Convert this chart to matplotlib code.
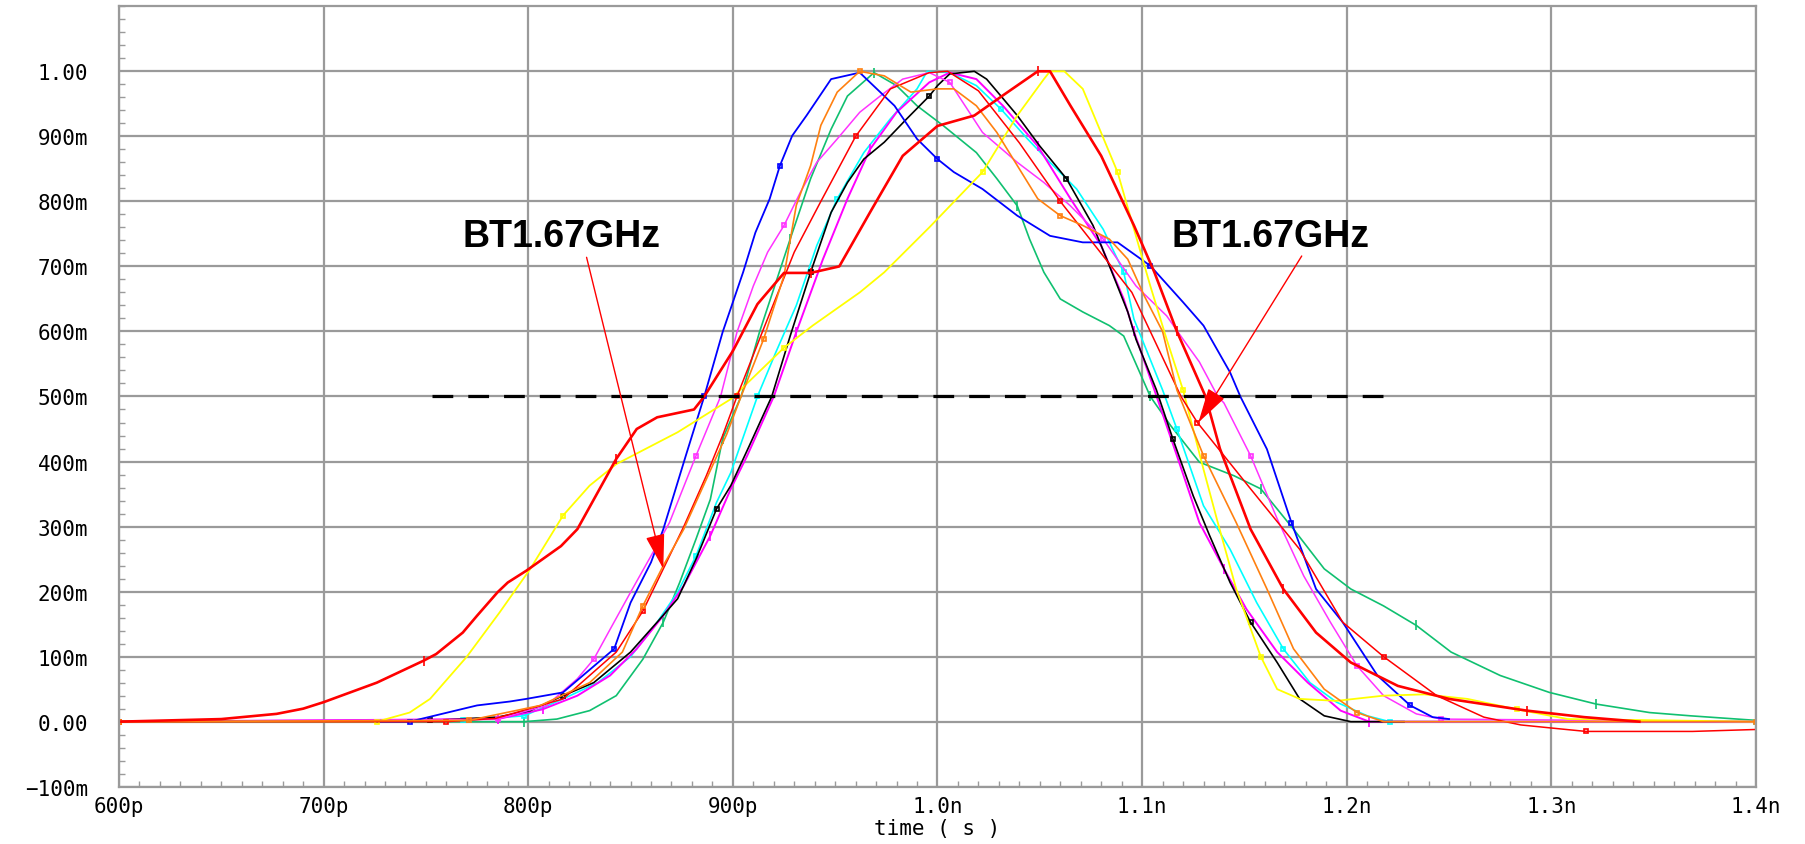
import matplotlib
matplotlib.use("Agg")
import matplotlib.pyplot as plt
from matplotlib.ticker import FixedLocator, FixedFormatter, MultipleLocator

# time in ps, voltage in V
t_red_a = [600, 650, 677, 690, 700, 726, 749, 755, 768, 775, 785, 790, 799, 816, 824, 843, 853, 863, 881, 886, 900, 912, 925, 938, 952, 967, 983, 1000, 1018, 1032, 1049, 1055, 1065, 1080, 1096, 1106, 1117, 1131, 1138, 1153, 1169, 1185, 1202, 1225, 1250, 1288, 1316, 1343]
v_red_a = [0, 0.004, 0.012, 0.02, 0.03, 0.06, 0.094, 0.104, 0.137, 0.163, 0.199, 0.214, 0.232, 0.27, 0.296, 0.404, 0.45, 0.468, 0.48, 0.5, 0.57, 0.642, 0.69, 0.69, 0.70, 0.783, 0.87, 0.916, 0.932, 0.963, 1.0, 1.0, 0.947, 0.87, 0.763, 0.691, 0.60, 0.5, 0.42, 0.296, 0.204, 0.137, 0.091, 0.055, 0.035, 0.017, 0.007, 0.0]

t_red_b = [600, 760, 784, 817, 843, 856, 866, 876, 887, 895, 902, 915, 930, 943, 960, 977, 996, 1005, 1020, 1040, 1060, 1080, 1095, 1104, 1119, 1127, 1153, 1177, 1198, 1218, 1244, 1267, 1285, 1304, 1317, 1369, 1400]
v_red_b = [0, 0, 0.005, 0.035, 0.107, 0.17, 0.235, 0.3, 0.378, 0.44, 0.5, 0.604, 0.722, 0.8, 0.9, 0.973, 0.998, 1.0, 0.97, 0.89, 0.8, 0.72, 0.66, 0.6, 0.5, 0.46, 0.358, 0.265, 0.153, 0.1, 0.04, 0.007, -0.005, -0.011, -0.015, -0.015, -0.012]

t_yellow = [600, 726, 742, 752, 770, 786, 801, 817, 830, 843, 873, 899, 925, 939, 962, 974, 996, 1022, 1039, 1052, 1055, 1062, 1071, 1088, 1104, 1112, 1120, 1130, 1137, 1146, 1158, 1166, 1177, 1195, 1218, 1238, 1259, 1283, 1308, 1400]
v_yellow = [0, 0, 0.014, 0.035, 0.1, 0.168, 0.235, 0.317, 0.363, 0.396, 0.445, 0.496, 0.575, 0.609, 0.66, 0.691, 0.76, 0.845, 0.932, 0.988, 1.0, 1.0, 0.973, 0.845, 0.67, 0.588, 0.51, 0.388, 0.306, 0.204, 0.1, 0.05, 0.035, 0.032, 0.04, 0.042, 0.035, 0.019, 0.004, 0.0]

t_blue = [600, 742, 775, 791, 799, 817, 842, 850, 860, 866, 877, 886, 895, 905, 911, 918, 923, 929, 936, 948, 962, 979, 990, 1000, 1008, 1022, 1039, 1055, 1071, 1088, 1104, 1120, 1130, 1143, 1148, 1161, 1173, 1185, 1198, 1215, 1231, 1242, 1250]
v_blue = [0, 0, 0.025, 0.031, 0.035, 0.045, 0.112, 0.183, 0.245, 0.296, 0.409, 0.5, 0.599, 0.691, 0.752, 0.804, 0.855, 0.901, 0.932, 0.988, 0.998, 0.947, 0.896, 0.865, 0.845, 0.819, 0.778, 0.747, 0.737, 0.737, 0.701, 0.645, 0.609, 0.537, 0.5, 0.419, 0.306, 0.204, 0.153, 0.071, 0.025, 0.007, 0.004]

t_orange = [600, 771, 806, 830, 846, 856, 866, 876, 897, 904, 915, 925, 931, 938, 943, 951, 962, 974, 987, 1000, 1008, 1019, 1029, 1039, 1049, 1060, 1071, 1084, 1093, 1101, 1110, 1117, 1130, 1146, 1161, 1174, 1189, 1205, 1218, 1400]
v_orange = [0, 0.002, 0.025, 0.06, 0.107, 0.178, 0.24, 0.296, 0.442, 0.5, 0.588, 0.686, 0.794, 0.855, 0.917, 0.968, 1.0, 0.993, 0.968, 0.973, 0.973, 0.947, 0.906, 0.855, 0.804, 0.778, 0.763, 0.742, 0.711, 0.655, 0.6, 0.51, 0.409, 0.306, 0.204, 0.112, 0.05, 0.014, 0.0, 0.0]

t_green = [600, 798, 814, 830, 843, 856, 866, 874, 882, 889, 895, 904, 913, 928, 938, 948, 956, 969, 980, 990, 1003, 1019, 1029, 1039, 1045, 1052, 1060, 1071, 1084, 1091, 1104, 1114, 1128, 1145, 1158, 1174, 1189, 1202, 1218, 1234, 1251, 1275, 1299, 1322, 1348, 1368, 1400]
v_green = [0, 0, 0.004, 0.017, 0.04, 0.096, 0.153, 0.214, 0.281, 0.342, 0.435, 0.5, 0.599, 0.742, 0.835, 0.911, 0.962, 0.998, 0.978, 0.947, 0.916, 0.875, 0.835, 0.793, 0.742, 0.691, 0.65, 0.63, 0.609, 0.593, 0.5, 0.455, 0.399, 0.378, 0.358, 0.296, 0.235, 0.204, 0.178, 0.148, 0.107, 0.071, 0.045, 0.027, 0.014, 0.009, 0.002]

t_cyan = [600, 768, 798, 817, 834, 850, 863, 873, 882, 892, 899, 912, 921, 931, 941, 951, 964, 977, 990, 995, 1006, 1019, 1031, 1044, 1055, 1068, 1081, 1091, 1096, 1110, 1117, 1130, 1143, 1156, 1169, 1182, 1195, 1210, 1221, 1400]
v_cyan = [0, 0.002, 0.009, 0.035, 0.06, 0.1, 0.153, 0.199, 0.255, 0.337, 0.383, 0.5, 0.568, 0.64, 0.732, 0.804, 0.875, 0.927, 0.973, 1.0, 0.998, 0.978, 0.942, 0.896, 0.86, 0.819, 0.757, 0.691, 0.619, 0.51, 0.45, 0.332, 0.265, 0.183, 0.112, 0.06, 0.03, 0.009, 0.0, 0.0]

t_black = [600, 752, 785, 801, 817, 832, 850, 863, 873, 882, 892, 899, 908, 919, 928, 938, 948, 956, 964, 974, 985, 996, 1000, 1006, 1018, 1024, 1031, 1039, 1050, 1063, 1076, 1084, 1093, 1097, 1107, 1115, 1125, 1133, 1143, 1153, 1166, 1177, 1189, 1202, 1228]
v_black = [0, 0.002, 0.007, 0.017, 0.04, 0.06, 0.107, 0.153, 0.189, 0.25, 0.327, 0.363, 0.424, 0.5, 0.593, 0.691, 0.783, 0.829, 0.865, 0.891, 0.927, 0.962, 0.978, 0.996, 1.0, 0.988, 0.962, 0.932, 0.885, 0.835, 0.763, 0.701, 0.63, 0.588, 0.51, 0.435, 0.347, 0.286, 0.214, 0.153, 0.091, 0.035, 0.009, 0.0, 0.0]

t_mag1 = [600, 785, 809, 824, 832, 840, 850, 860, 869, 882, 894, 902, 910, 917, 925, 933, 941, 951, 962, 972, 983, 996, 1006, 1022, 1039, 1052, 1065, 1081, 1097, 1112, 1120, 1128, 1137, 1140, 1153, 1166, 1179, 1192, 1205, 1218, 1234, 1246, 1400]
v_mag1 = [0, 0.004, 0.025, 0.066, 0.096, 0.142, 0.199, 0.255, 0.306, 0.409, 0.5, 0.599, 0.67, 0.722, 0.763, 0.814, 0.86, 0.896, 0.937, 0.962, 0.988, 0.998, 0.983, 0.906, 0.86, 0.829, 0.793, 0.742, 0.67, 0.624, 0.588, 0.553, 0.5, 0.49, 0.409, 0.312, 0.224, 0.153, 0.086, 0.04, 0.012, 0.004, 0.0]

t_mag2 = [600, 785, 807, 824, 840, 853, 866, 876, 889, 899, 907, 920, 931, 944, 956, 967, 980, 996, 1006, 1019, 1032, 1049, 1065, 1080, 1091, 1096, 1106, 1117, 1128, 1140, 1151, 1166, 1181, 1197, 1211, 1400]
v_mag2 = [0, 0.004, 0.019, 0.04, 0.071, 0.112, 0.163, 0.209, 0.286, 0.358, 0.409, 0.5, 0.599, 0.711, 0.804, 0.88, 0.937, 0.983, 0.998, 0.988, 0.947, 0.885, 0.804, 0.732, 0.65, 0.6, 0.51, 0.409, 0.306, 0.235, 0.173, 0.107, 0.06, 0.017, 0.0, 0.0]

x_ticks = [600, 700, 800, 900, 1000, 1100, 1200, 1300, 1400]
x_labels = ["600p", "700p", "800p", "900p", "1.0n", "1.1n", "1.2n", "1.3n", "1.4n"]
y_ticks = [-0.1, 0.0, 0.1, 0.2, 0.3, 0.4, 0.5, 0.6, 0.7, 0.8, 0.9, 1.0]
y_labels = ["\u2212100m", "0.00", "100m", "200m", "300m", "400m", "500m", "600m", "700m", "800m", "900m", "1.00"]

thr_level = 0.5
thr_span = (753, 1221)
label_text = "BT1.67GHz"
notes = [  # text left/baseline, arrow tail, arrow tip
    ((768, 0.732), (828.5, 0.714), (866, 0.235)),
    ((1114.5, 0.732), (1178, 0.716), (1127.5, 0.46)),
]

fig = plt.figure(figsize=(18.06, 8.45), dpi=100)
ax = fig.add_axes([0.0659, 0.0678, 0.9064, 0.9236])

grid_c = "#9a9a9a"
ax.set_xlim(600, 1400)
ax.set_ylim(-0.1, 1.1)
ax.grid(True, which="major", color=grid_c, lw=1.6)
ax.set_axisbelow(True)
for s in ax.spines.values():
    s.set_color(grid_c)
    s.set_linewidth(1.6)

curves = [
    (t_green, v_green, "#10c070", 1.2, "|"),
    (t_cyan, v_cyan, "#00ffff", 1.2, "s"),
    (t_mag2, v_mag2, "#ff00ff", 1.4, "|"),
    (t_black, v_black, "black", 1.2, "s"),
    (t_mag1, v_mag1, "#ff33ff", 1.1, "s"),
    (t_blue, v_blue, "#0000ff", 1.3, "s"),
    (t_yellow, v_yellow, "#ffff00", 1.3, "s"),
    (t_red_b, v_red_b, "#ff0000", 1.1, "s"),
    (t_orange, v_orange, "#ff8010", 1.2, "s"),
    (t_red_a, v_red_a, "#ff0000", 1.9, "|"),
]
for i, (t, v, c, lw, mk) in enumerate(curves):
    ax.plot(t, v, color=c, lw=lw, marker=mk, markersize=3.5 if mk == "s" else 7,
            fillstyle="none", markeredgewidth=1.2, markevery=0.11 + 0.006 * i)

ax.plot(thr_span, [thr_level, thr_level], color="black", lw=2.3,
        linestyle=(0, (6.5, 4.7)), zorder=5)

for (tx, ty), tail, tip in notes:
    ax.text(tx, ty, label_text, fontsize=27, fontweight="bold",
            family="Liberation Sans", ha="left", va="baseline", zorder=6)
    ax.annotate("", xy=tip, xytext=tail, zorder=6,
                arrowprops=dict(arrowstyle="-|>,head_length=2.2,head_width=0.6",
                                color="red", lw=1, mutation_scale=10,
                                shrinkA=0, shrinkB=0))

ax.xaxis.set_major_locator(FixedLocator(x_ticks))
ax.xaxis.set_major_formatter(FixedFormatter(x_labels))
ax.yaxis.set_major_locator(FixedLocator(y_ticks))
ax.yaxis.set_major_formatter(FixedFormatter(y_labels))
ax.xaxis.set_minor_locator(MultipleLocator(10))
ax.yaxis.set_minor_locator(MultipleLocator(0.02))
ax.tick_params(which="major", length=0, labelsize=15, colors="black")
ax.tick_params(axis="y", which="major", pad=22)
ax.tick_params(axis="x", which="major", pad=7)
ax.tick_params(which="minor", direction="in", length=4, width=1, color=grid_c)
for lab in ax.get_xticklabels() + ax.get_yticklabels():
    lab.set_family("DejaVu Sans Mono")

ax.set_xlabel("time ( s )", fontsize=15, family="DejaVu Sans Mono", labelpad=1)

fig.savefig("out.png", dpi=100)
